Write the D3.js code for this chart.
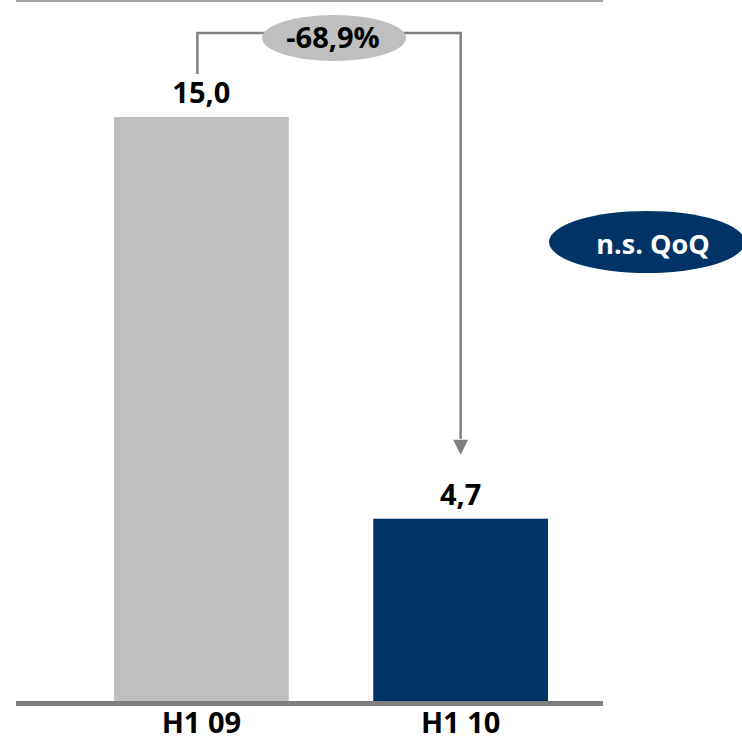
<!DOCTYPE html>
<html>
<head>
<meta charset="utf-8">
<script src="https://cdn.jsdelivr.net/npm/d3@7"></script>
<style>
  html, body { margin: 0; padding: 0; background: #fff; }
  svg { display: block; }
  text { font-family: "Open Sans", "Noto Sans", sans-serif; font-weight: 700; }
</style>
</head>
<body>
<script>
const categories = ["H1 09", "H1 10"];
const values = [15.0, 4.7];
const valueLabels = ["15,0", "4,7"];
const barColors = ["#bfbfbf", "#003366"];
const changeLabel = "-68,9%";
const badgeLabel = "n.s. QoQ";

const W = 742, H = 740;
const svg = d3.select("body").append("svg").attr("width", W).attr("height", H);

const x = d3.scaleBand().domain(categories).range([114, 548]).paddingInner(0.326).paddingOuter(0);
const y = d3.scaleLinear().domain([0, 15]).range([702, 117]);

// top rule
svg.append("rect").attr("x", 16).attr("y", 0).attr("width", 587).attr("height", 2).attr("fill", "#a6a6a6");

// bars
svg.selectAll("rect.bar").data(values).enter().append("rect")
  .attr("class", "bar")
  .attr("x", (d, i) => x(categories[i]))
  .attr("y", d => y(d))
  .attr("width", x.bandwidth())
  .attr("height", d => y(0) - y(d))
  .attr("fill", (d, i) => barColors[i]);

// baseline
svg.append("rect").attr("x", 16).attr("y", 701).attr("width", 587).attr("height", 5).attr("fill", "#7f7f7f");

// value labels
svg.selectAll("text.val").data(values).enter().append("text")
  .attr("class", "val")
  .attr("x", (d, i) => x(categories[i]) + x.bandwidth() / 2)
  .attr("y", d => y(d) - 14)
  .attr("text-anchor", "middle")
  .attr("font-size", 29)
  .attr("fill", "#000")
  .text((d, i) => valueLabels[i]);

// category axis labels
const xAxis = d3.axisBottom(x).tickSize(0).tickPadding(0);
const gx = svg.append("g").attr("transform", "translate(0,706)").call(xAxis);
gx.select(".domain").remove();
gx.selectAll("text")
  .attr("dy", 0).attr("y", 27)
  .attr("font-size", 29)
  .attr("fill", "#000")
  .style("font-family", "'Open Sans', 'Noto Sans', sans-serif")
  .style("font-weight", 700);

// bracket arrow
const xL = x(categories[0]) + x.bandwidth() / 2 - 4;
const xR = x(categories[1]) + x.bandwidth() / 2;
const yTop = 33;
svg.append("path")
  .attr("d", `M${xL},${y(values[0]) - 43} V${yTop} H${xR} V${y(values[1]) - 80}`)
  .attr("fill", "none").attr("stroke", "#808080").attr("stroke-width", 2.5);
const tipY = y(values[1]) - 64;
svg.append("path")
  .attr("d", `M${xR - 7.5},${tipY - 15} L${xR + 7.5},${tipY - 15} L${xR},${tipY} Z`)
  .attr("fill", "#808080");

// change ellipse
const cx = (xL + xR) / 2 + 5;
svg.append("ellipse").attr("cx", cx).attr("cy", 38).attr("rx", 72).attr("ry", 23).attr("fill", "#bfbfbf");
svg.append("text").attr("x", cx - 1).attr("y", 48).attr("text-anchor", "middle")
  .attr("font-size", 29).attr("fill", "#000").text(changeLabel);

// badge
svg.append("ellipse").attr("cx", 647).attr("cy", 242).attr("rx", 98).attr("ry", 31).attr("fill", "#003366");
svg.append("text").attr("x", 653).attr("y", 254).attr("text-anchor", "middle")
  .attr("font-size", 27).attr("fill", "#fff").text(badgeLabel);
</script>
</body>
</html>
